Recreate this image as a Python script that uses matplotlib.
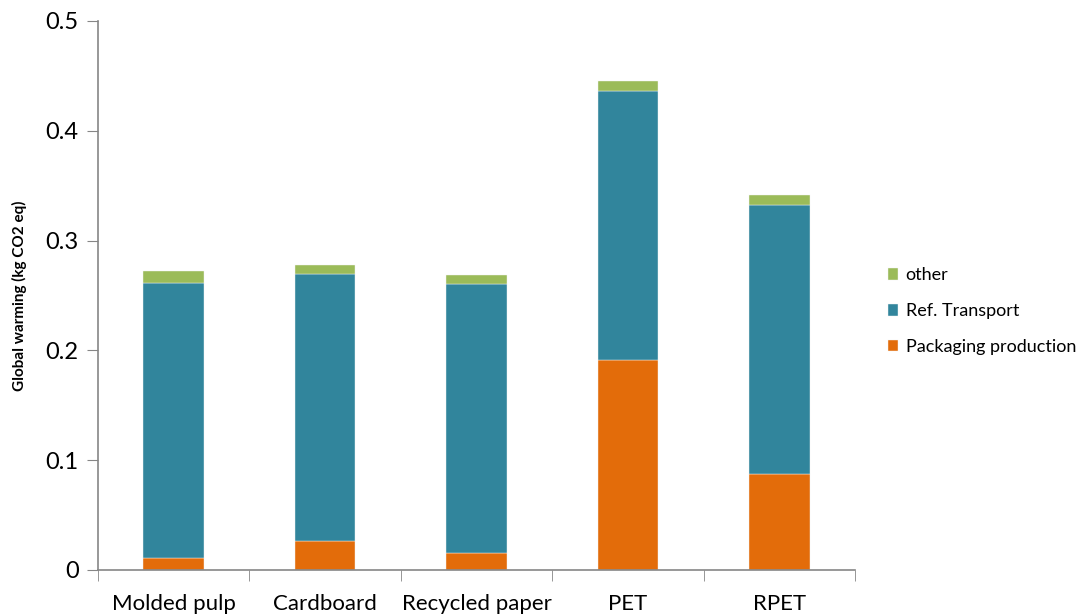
import numpy as np
import matplotlib.pyplot as plt
from matplotlib.ticker import FixedLocator, FuncFormatter

categories = ['Molded pulp', 'Cardboard', 'Recycled paper', 'PET', 'RPET']
packaging = [0.0112, 0.0261, 0.0158, 0.1909, 0.0878]
transport = [0.2502, 0.2432, 0.2446, 0.2455, 0.2446]
other = [0.0110, 0.0082, 0.0086, 0.0089, 0.0091]

colors = {'pack': '#E36C0A', 'trans': '#31859C', 'other': '#9BBB59'}

plt.rcParams['font.family'] = ['Lato', 'DejaVu Sans']

fig = plt.figure(figsize=(10.81, 6.15), dpi=100)
ax = fig.add_axes([0.0907, 0.0732, 0.7003, 0.8927])

x = np.arange(len(categories))
w = 0.4
pack = np.array(packaging)
trans = np.array(transport)
b1 = ax.bar(x, pack, w, color=colors['pack'], edgecolor='#f4f4f4', linewidth=0.3, label='Packaging production')
b2 = ax.bar(x, trans, w, bottom=pack, color=colors['trans'], edgecolor='#f4f4f4', linewidth=0.3, label='Ref. Transport')
b3 = ax.bar(x, other, w, bottom=pack + trans, color=colors['other'], edgecolor='#f4f4f4', linewidth=0.3, label='other')

ax.set_xlim(-0.5, len(categories) - 0.5)
ax.set_ylim(0, 0.5)
ax.set_yticks(np.arange(0, 0.51, 0.1))
ax.yaxis.set_major_formatter(FuncFormatter(lambda v, p: '{:g}'.format(round(v, 2))))
ax.set_xticks(x)
ax.set_xticklabels(categories, fontsize=16)
ax.xaxis.set_minor_locator(FixedLocator(np.arange(-0.5, len(categories), 1.0)))
ax.tick_params(axis='x', which='major', length=0, pad=17)
ax.tick_params(axis='x', which='minor', length=8, color='#868686', direction='out')
ax.tick_params(axis='y', length=8, color='#868686', labelsize=17, pad=6)

for s in ['top', 'right']:
    ax.spines[s].set_visible(False)
for s in ['left', 'bottom']:
    ax.spines[s].set_color('#868686')
    ax.spines[s].set_linewidth(1.2)

ax.set_ylabel('Global warming (kg CO2 eq)', fontsize=11, fontweight='bold', labelpad=13)

fig.legend(handles=[b3, b2, b1], loc='center left', bbox_to_anchor=(0.806, 0.494),
           frameon=False, fontsize=13, handlelength=0.6, handleheight=0.6,
           handletextpad=0.4, labelspacing=1.1)

fig.savefig('out.png', dpi=100)
